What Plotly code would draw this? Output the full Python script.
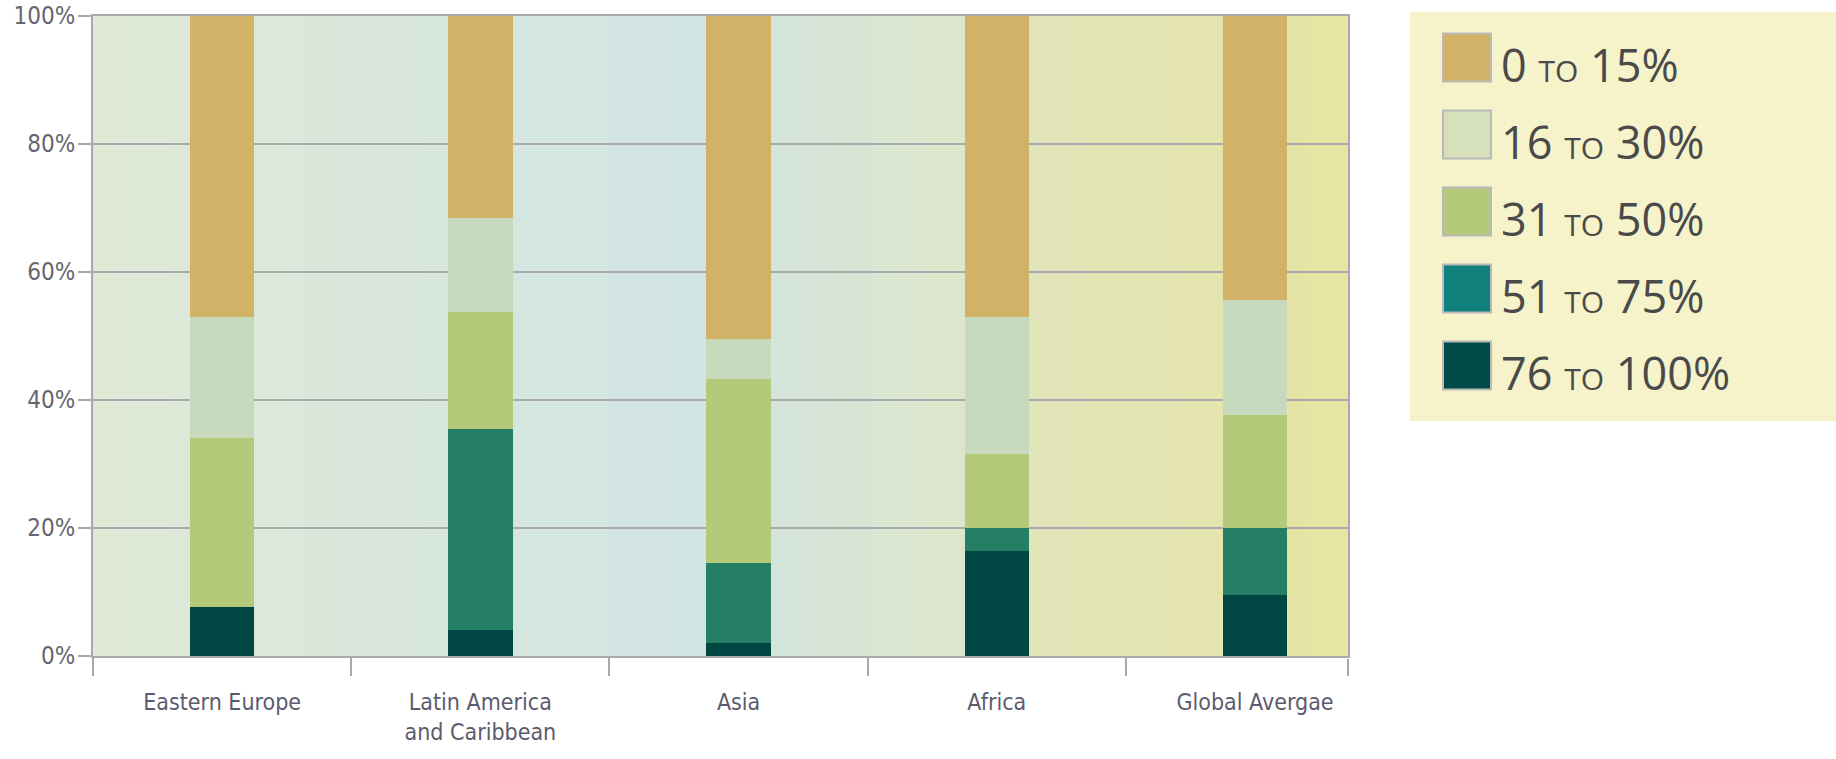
import plotly.graph_objects as go

# ---------------- data ----------------
CATEGORIES = ["Eastern Europe", "Latin America<br>and Caribbean", "Asia", "Africa", "Global Avergae"]
BAND_LOW = [76, 51, 31, 16, 0]
BAND_HIGH = [100, 75, 50, 30, 15]
SHARE_76_100 = [7.6, 4.0, 2.1, 16.4, 9.6]
SHARE_51_75 = [0.0, 31.4, 12.4, 3.6, 10.4]
SHARE_31_50 = [26.5, 18.4, 28.8, 11.6, 17.6]
SHARE_16_30 = [18.8, 14.6, 6.3, 21.4, 18.1]
SHARE_0_15 = [47.1, 31.6, 50.4, 47.0, 44.3]
SERIES_VALUES = [SHARE_76_100, SHARE_51_75, SHARE_31_50, SHARE_16_30, SHARE_0_15]
Y_TICKS = [0, 20, 40, 60, 80, 100]
Y_TICK_TEXT = [f"{v}%" for v in Y_TICKS]

# ---------------- styles ----------------
BAR_COLORS = ["#004643", "#257f64", "#b4c97a", "#c8dabe", "#d2b266"]
LEGEND_COLORS = ["#004b48", "#10807c", "#b5c97b", "#d7e0bd", "#d2b266"]
GRID = "#a9a9ad"
W, H = 1836, 759
L, R, T, B = 93, 1348, 16, 656
PW, PH = R - L, B - T

fig = go.Figure()
for lo, hi, vals, col in zip(BAND_LOW, BAND_HIGH, SERIES_VALUES, BAR_COLORS):
    fig.add_trace(go.Bar(
        x=CATEGORIES, y=vals, name=f"{lo} to {hi}%",
        marker=dict(color=col, line=dict(width=0)), width=0.25,
        showlegend=False,
    ))

# background horizontal gradient
stops = [(0.0, "#dfe9d6"), (0.13, "#dce8da"), (0.28, "#d7e6dd"), (0.335, "#d5e6e1"),
         (0.49, "#d1e5e2"), (0.54, "#d4e5dc"), (0.70, "#dde6c9"), (0.75, "#e1e5b9"),
         (0.885, "#e4e4b0"), (0.94, "#e6e4a5"), (1.0, "#e7e5a3")]

def hex2rgb(h):
    h = h.lstrip("#")
    return [int(h[i:i + 2], 16) for i in (0, 2, 4)]

def color_at(t):
    for (t0, c0), (t1, c1) in zip(stops[:-1], stops[1:]):
        if t0 <= t <= t1:
            f = 0 if t1 == t0 else (t - t0) / (t1 - t0)
            a, b = hex2rgb(c0), hex2rgb(c1)
            return "rgb(%d,%d,%d)" % tuple(round(a[i] + (b[i] - a[i]) * f) for i in range(3))
    return stops[-1][1]

shapes = []
N = 160
for i in range(N):
    x0, x1 = i / N, (i + 1) / N
    shapes.append(dict(type="rect", xref="paper", yref="paper", x0=x0, x1=x1 + 0.001, y0=0, y1=1,
                       fillcolor=color_at((x0 + x1) / 2), line=dict(width=0), layer="below"))

# right-end tick of the x axis
shapes.append(dict(type="line", xref="paper", yref="paper", x0=1, x1=1,
                   y0=-3 / PH, y1=-20 / PH, line=dict(color=GRID, width=2)))

# custom legend (top = first band)
def px(x):
    return (x - L) / PW

def py(y):
    return (B - y) / PH

shapes.append(dict(type="rect", xref="paper", yref="paper", x0=px(1410), x1=px(1836),
                   y0=py(421), y1=py(12), fillcolor="#f6f3cb", line=dict(width=0), layer="below"))

annotations = []
order = list(range(len(BAND_LOW)))[::-1]
for k, idx in enumerate(order):
    cy = 57.5 + 77 * k
    shapes.append(dict(type="rect", xref="paper", yref="paper",
                       x0=px(1443), x1=px(1491), y0=py(cy + 24), y1=py(cy - 24),
                       fillcolor=LEGEND_COLORS[idx], line=dict(color="#b9b9b9", width=2)))
    txt = f"{BAND_LOW[idx]} <span style='font-size:30px'>TO</span> {BAND_HIGH[idx]}%"
    annotations.append(dict(xref="paper", yref="paper", x=px(1499), y=py(cy + 7),
                            xanchor="left", yanchor="middle", text=txt, showarrow=False,
                            font=dict(family="Open Sans", size=45, color="#4a4a4a")))

fig.update_layout(
    width=W, height=H,
    margin=dict(l=L, r=W - R, t=T, b=H - B, pad=0, autoexpand=False),
    paper_bgcolor="white", plot_bgcolor="rgba(0,0,0,0)",
    barmode="stack", bargap=0,
    shapes=shapes, annotations=annotations,
    showlegend=False,
)
fig.update_xaxes(
    type="category", range=[-0.5, 4.36], automargin=False,
    showgrid=False, showline=True, mirror=True, linecolor=GRID, linewidth=2,
    tickson="boundaries", ticks="outside", ticklen=18, tickwidth=2, tickcolor=GRID,
    ticklabelstandoff=24,
    tickfont=dict(family="DejaVu Sans Condensed, serif", size=23, color="#5b5b6e"),
)
fig.update_yaxes(
    range=[0, 100], tickmode="array", tickvals=Y_TICKS, ticktext=Y_TICK_TEXT,
    ticklabeloverflow="allow", ticklabelstandoff=-2, automargin=False,
    showgrid=True, gridcolor=GRID, gridwidth=2,
    showline=True, mirror=True, linecolor=GRID, linewidth=2,
    ticks="outside", ticklen=13, tickwidth=2, tickcolor=GRID,
    tickfont=dict(family="DejaVu Sans Condensed, serif", size=24, color="#666670"),
    zeroline=False,
)

fig.write_html("out.html", config={"displayModeBar": False},
               post_script="document.body.style.margin='0';")
